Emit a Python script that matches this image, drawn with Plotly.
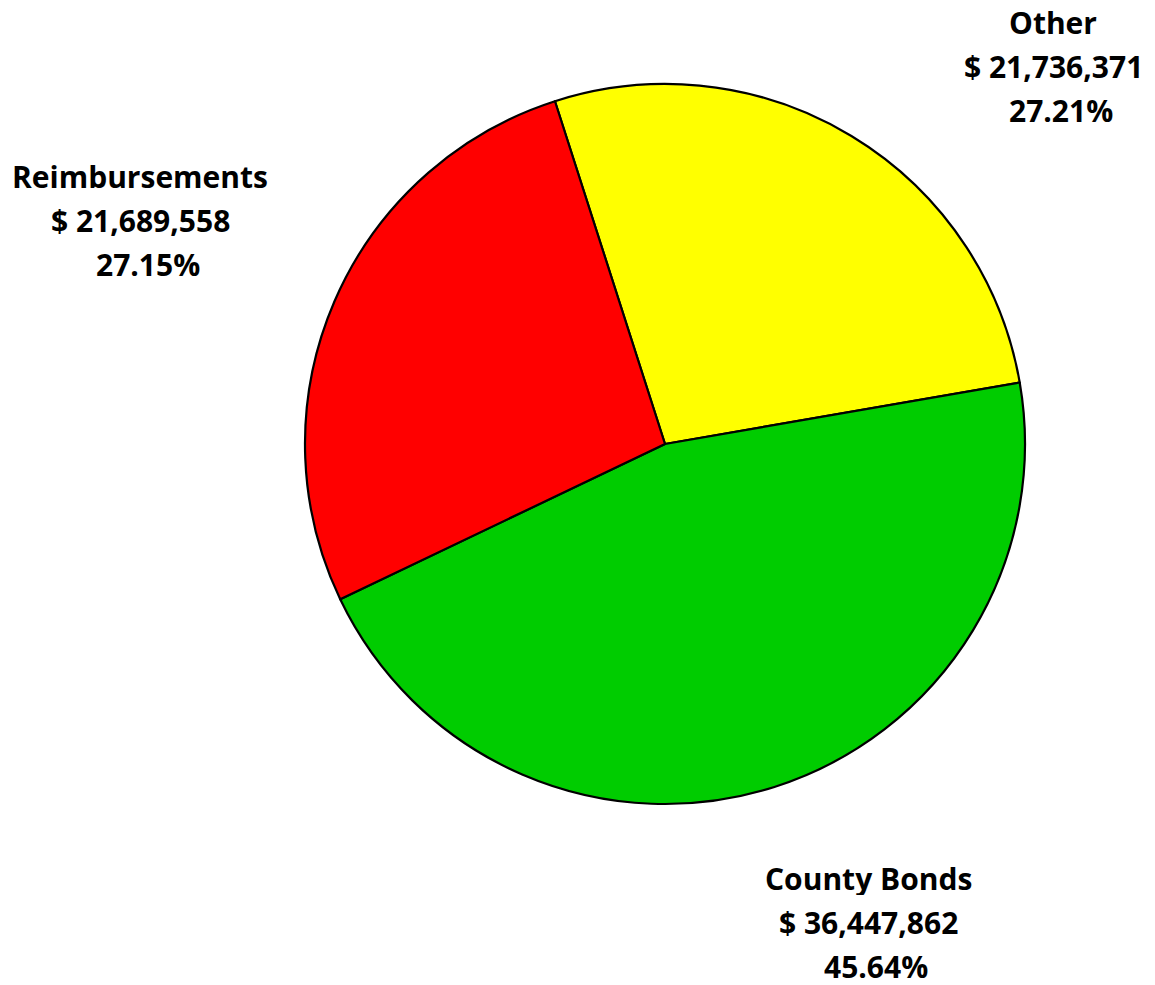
import plotly.graph_objects as go

categories = ["Other", "County Bonds", "Reimbursements"]
values = [21736371, 36447862, 21689558]
percent_labels = ["27.21%", "45.64%", "27.15%"]
colors = ["#FFFF00", "#00CC00", "#FF0000"]

# label block centers (pixels) and style, separate from data
W, H = 1155, 985
label_pos = {
    "Other": (1053, 22),
    "County Bonds": (868, 878),
    "Reimbursements": (140, 176),
}
line_gap = 44
pct_shift = 8

fig = go.Figure(go.Pie(
    labels=categories,
    values=values,
    sort=False,
    direction="clockwise",
    rotation=-17.8,
    marker=dict(colors=colors, line=dict(color="black", width=2.2)),
    textinfo="none",
    hoverinfo="label+value+percent",
    showlegend=False,
    domain=dict(x=[(665 - 360) / W, (665 + 360) / W], y=[1 - 804 / H, 1 - 84 / H]),
))

font = dict(family="Open Sans", size=30, color="black")
for cat, val, pct in zip(categories, values, percent_labels):
    cx, cy = label_pos[cat]
    lines = [cat, "$ {:,}".format(val), pct]
    for i, t in enumerate(lines):
        fig.add_annotation(
            x=(cx + (pct_shift if i == 2 else 0)) / W,
            y=1 - (cy + i * line_gap) / H,
            xref="paper", yref="paper",
            text="<b>" + t + "</b>",
            showarrow=False, font=font,
            xanchor="center", yanchor="middle",
            height=34, borderpad=0,
        )

fig.update_layout(
    width=W, height=H,
    margin=dict(l=0, r=0, t=0, b=0),
    paper_bgcolor="white", plot_bgcolor="white",
)
fig.write_html("out.html")
